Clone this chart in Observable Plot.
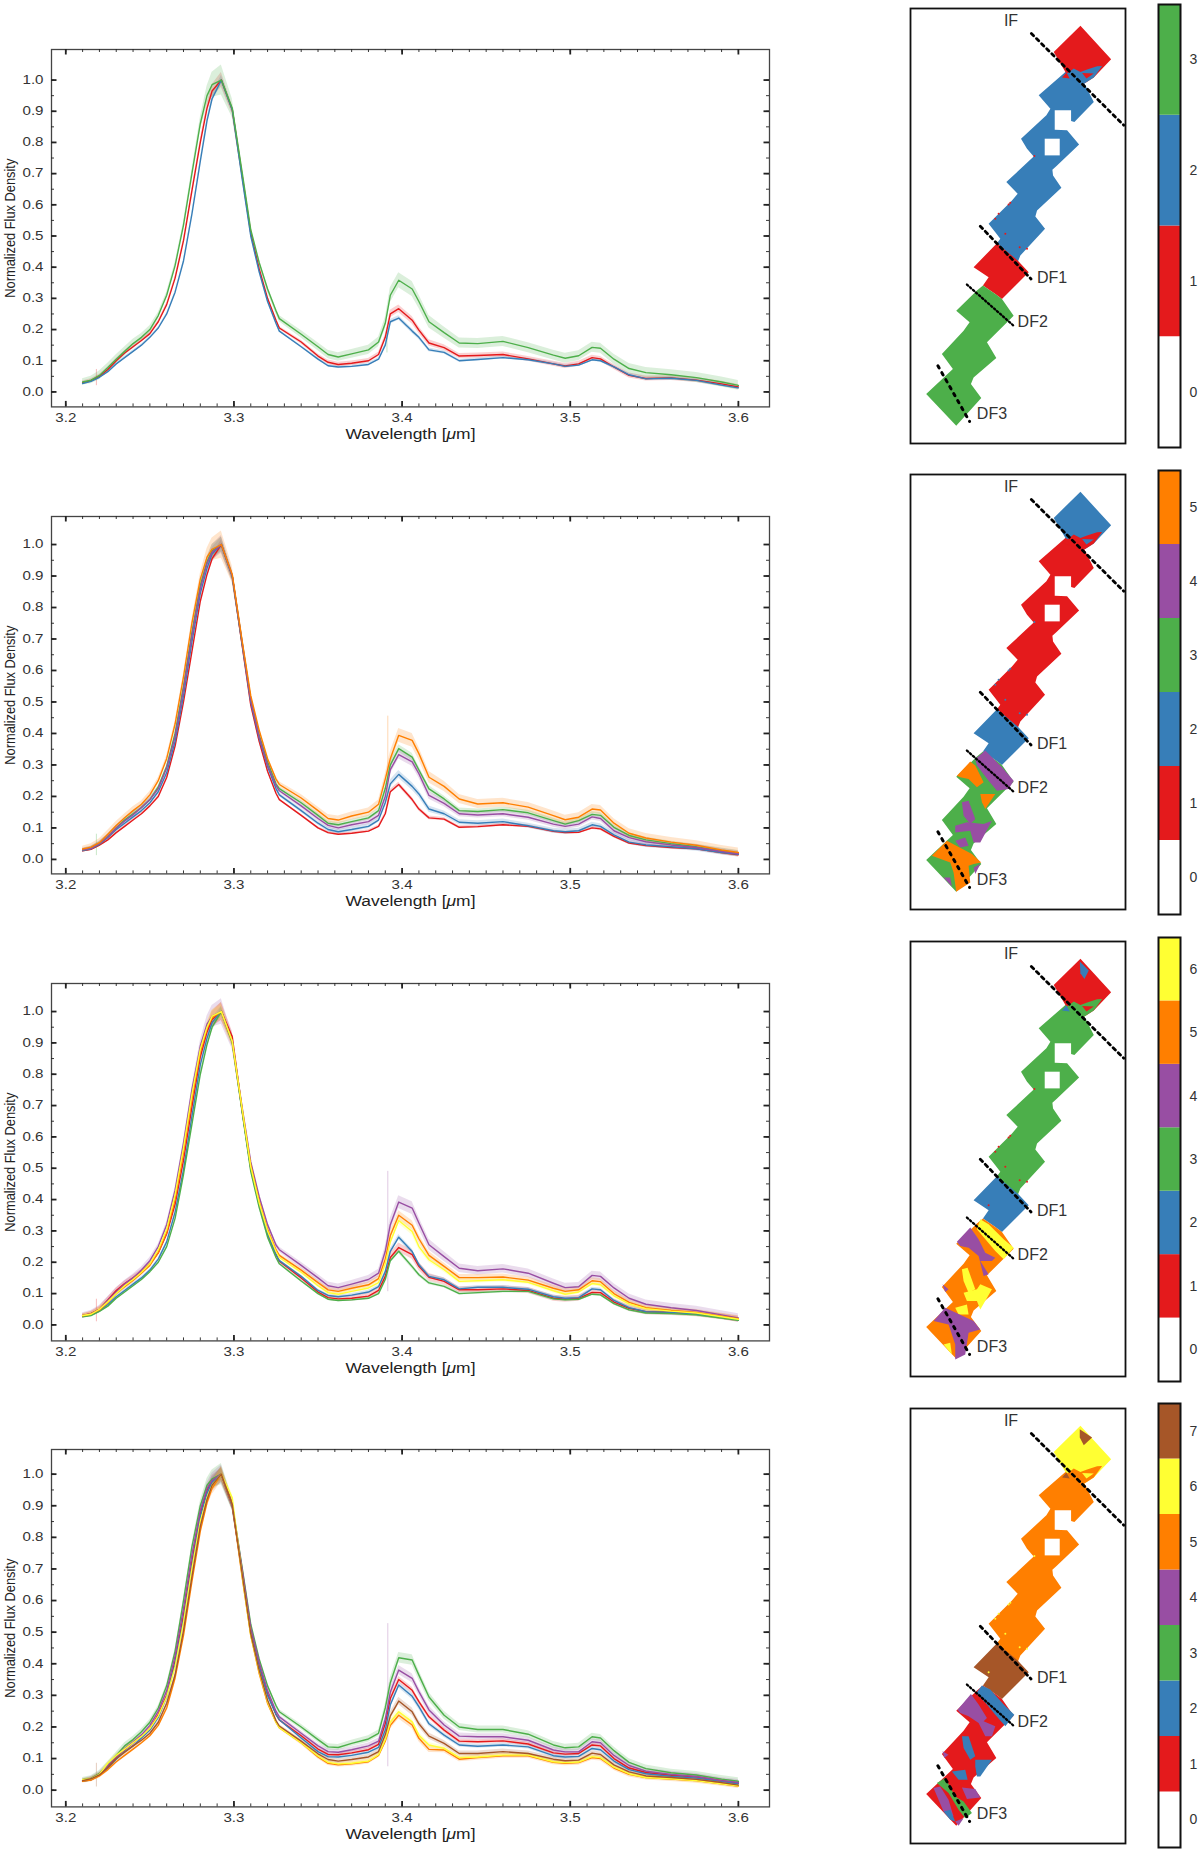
<!DOCTYPE html>
<html><head><meta charset="utf-8">
<script src="https://cdn.jsdelivr.net/npm/d3@7"></script>
<script src="https://cdn.jsdelivr.net/npm/@observablehq/plot@0.6"></script>
<style>html,body{margin:0;padding:0;background:#fff}#page{position:relative;width:1200px;height:1851px;overflow:hidden}</style>
</head><body><div id="page"></div>
<script>
const colors = ["#ffffff","#e41a1c","#377eb8","#4daf4a","#984ea3","#ff7f00","#ffff33","#a65628"];
const wavelength = [3.21,3.215,3.22,3.225,3.23,3.235,3.24,3.245,3.25,3.255,3.26,3.265,3.27,3.275,3.28,3.284,3.287,3.2925,3.299,
 3.305,3.31,3.315,3.32,3.325,3.327,3.34,3.35,3.356,3.362,3.37,3.38,3.386,3.39,
 3.393,3.398,3.406,3.41,3.416,3.425,3.434,3.445,3.46,3.475,3.49,3.497,3.505,3.513,3.518,3.526,3.535,3.545,3.56,3.575,3.59,3.6];
const bandSpread = [.01,.012,.014,.014,.014,.014,.014,.012,.012,.01,.01,.01,.01,.012,.02,.03,.04,.048,.03,
 .014,.01,.01,.01,.01,.01,.012,.013,.014,.014,.014,.015,.015,.018,
 .024,.024,.024,.022,.02,.018,.016,.016,.016,.016,.016,.016,.016,.016,.016,.016,.016,.016,.016,.016,.016,.016];

// panel 1: clusters 1-3
const p1Red=[.03,.036,.05,.072,.1,.125,.145,.165,.187,.225,.28,.365,.485,.645,.80,.91,.965,1,.905,
 .69,.51,.395,.30,.23,.205,.16,.115,.095,.088,.092,.10,.12,.175,
 .25,.267,.23,.198,.157,.142,.115,.117,.12,.106,.09,.083,.09,.11,.106,.08,.053,.043,.045,.038,.026,.016];
const p1Blue=[.027,.034,.047,.065,.09,.11,.13,.15,.175,.205,.25,.32,.42,.57,.74,.87,.94,1,.905,
 .68,.50,.385,.29,.22,.195,.145,.105,.084,.08,.082,.088,.105,.15,
 .225,.237,.195,.175,.135,.127,.10,.104,.11,.103,.09,.082,.086,.103,.10,.08,.055,.042,.044,.037,.022,.013];
const p1Green=[.032,.038,.053,.078,.105,.13,.155,.175,.20,.245,.31,.405,.535,.70,.86,.95,.985,1,.91,
 .70,.52,.415,.33,.26,.235,.185,.145,.12,.112,.122,.135,.16,.22,
 .31,.358,.33,.29,.225,.19,.157,.155,.162,.142,.118,.108,.116,.143,.14,.105,.075,.062,.055,.046,.032,.021];

// panel 2: clusters 1-5
const p2Red=[.027,.032,.045,.062,.085,.105,.125,.145,.17,.20,.26,.36,.50,.66,.82,.905,.955,1,.90,
 .675,.49,.375,.28,.21,.19,.14,.10,.085,.08,.083,.09,.105,.145,
 .215,.238,.19,.16,.132,.128,.102,.104,.11,.105,.089,.085,.086,.10,.097,.073,.052,.044,.038,.034,.022,.015];
const p2Blue=[.028,.034,.048,.07,.095,.115,.135,.155,.18,.215,.275,.375,.52,.69,.845,.925,.97,1,.90,
 .68,.50,.385,.295,.225,.205,.155,.115,.095,.088,.095,.105,.125,.18,
 .24,.27,.232,.208,.16,.145,.118,.115,.12,.107,.091,.088,.091,.11,.105,.078,.055,.046,.04,.034,.022,.016];
const p2Green=[.03,.036,.05,.073,.10,.125,.145,.165,.19,.23,.295,.40,.55,.72,.87,.945,.98,1,.90,
 .685,.51,.395,.31,.24,.225,.18,.14,.115,.11,.12,.132,.155,.225,
 .30,.352,.325,.284,.224,.192,.155,.152,.158,.148,.123,.112,.123,.143,.14,.102,.076,.062,.05,.04,.028,.02];
const p2Purple=[.03,.035,.05,.072,.10,.122,.142,.165,.19,.225,.29,.39,.54,.71,.86,.94,.975,1,.90,
 .685,.505,.39,.30,.235,.218,.17,.13,.108,.10,.11,.12,.14,.20,
 .285,.333,.31,.272,.203,.178,.145,.141,.145,.134,.112,.105,.112,.135,.13,.091,.069,.056,.046,.038,.025,.018];
const p2Orange=[.033,.039,.053,.08,.108,.132,.155,.175,.205,.25,.32,.43,.58,.75,.89,.96,.985,1,.905,
 .69,.52,.41,.32,.255,.238,.195,.155,.13,.125,.138,.15,.175,.255,
 .32,.394,.378,.336,.261,.232,.192,.176,.18,.166,.139,.126,.134,.16,.157,.115,.083,.068,.055,.045,.03,.022];

// panel 3: clusters 1-6
const p3Red=[.03,.036,.05,.08,.11,.132,.15,.17,.195,.23,.29,.385,.525,.695,.855,.935,.975,1,.92,
 .68,.50,.385,.29,.225,.203,.15,.105,.087,.083,.085,.092,.11,.155,
 .215,.247,.224,.187,.152,.139,.112,.112,.115,.11,.085,.082,.085,.104,.103,.073,.053,.042,.04,.036,.026,.018];
const p3Blue=[.027,.032,.045,.065,.09,.11,.13,.15,.175,.21,.265,.36,.495,.665,.83,.915,.965,1,.905,
 .68,.50,.385,.29,.225,.205,.155,.11,.094,.09,.095,.105,.122,.17,
 .235,.28,.234,.192,.155,.144,.115,.12,.12,.114,.09,.085,.087,.115,.112,.078,.055,.042,.04,.034,.024,.016];
const p3Green=[.026,.03,.043,.06,.085,.105,.125,.145,.17,.20,.25,.34,.48,.64,.80,.895,.95,1,.90,
 .675,.49,.375,.28,.215,.195,.14,.10,.082,.078,.08,.085,.10,.145,
 .205,.235,.186,.16,.134,.123,.10,.103,.107,.107,.083,.08,.082,.098,.096,.068,.048,.038,.036,.032,.022,.015];
const p3Purple=[.03,.036,.05,.078,.105,.13,.15,.175,.205,.25,.32,.43,.58,.75,.89,.96,.985,1,.905,
 .69,.52,.41,.32,.255,.24,.19,.15,.125,.119,.13,.145,.165,.235,
 .32,.392,.373,.325,.256,.218,.181,.173,.179,.165,.133,.119,.122,.158,.155,.118,.085,.066,.055,.046,.032,.022];
const p3Orange=[.029,.035,.048,.072,.10,.122,.142,.165,.19,.23,.295,.40,.55,.72,.87,.945,.98,1,.905,
 .685,.51,.395,.305,.24,.222,.175,.135,.112,.107,.117,.128,.148,.21,
 .285,.35,.318,.275,.222,.187,.151,.151,.153,.143,.117,.107,.112,.141,.138,.10,.072,.055,.046,.04,.028,.02];
const p3Yellow=[.03,.034,.05,.074,.10,.125,.145,.168,.195,.24,.305,.415,.565,.735,.88,.95,.985,1,.905,
 .685,.505,.39,.30,.235,.215,.168,.125,.103,.098,.107,.118,.135,.195,
 .265,.333,.298,.25,.208,.176,.139,.141,.144,.136,.109,.098,.105,.132,.128,.093,.067,.052,.044,.038,.026,.018];

// panel 4: clusters 1-7
const p4Red=[.03,.033,.048,.075,.105,.128,.15,.17,.195,.24,.30,.41,.555,.725,.875,.95,.98,1,.90,
 .69,.51,.395,.305,.24,.222,.172,.13,.113,.112,.118,.128,.145,.21,
 .29,.35,.316,.28,.232,.19,.155,.153,.156,.146,.118,.114,.116,.143,.14,.10,.07,.056,.047,.042,.03,.022];
const p4Blue=[.028,.033,.047,.07,.098,.122,.14,.165,.19,.23,.295,.40,.54,.71,.865,.94,.975,1,.90,
 .685,.505,.39,.30,.24,.223,.165,.122,.106,.105,.11,.12,.135,.19,
 .27,.333,.297,.264,.21,.174,.143,.139,.143,.137,.109,.105,.107,.132,.128,.092,.065,.052,.044,.038,.028,.02];
const p4Green=[.033,.037,.052,.08,.11,.14,.16,.185,.215,.26,.33,.44,.60,.77,.90,.965,.985,1,.905,
 .70,.525,.415,.33,.268,.248,.20,.16,.137,.135,.148,.162,.18,.26,
 .34,.419,.412,.364,.295,.237,.20,.192,.192,.177,.143,.134,.137,.169,.165,.125,.088,.068,.055,.048,.035,.028];
const p4Purple=[.03,.036,.05,.078,.105,.132,.152,.175,.205,.25,.315,.425,.575,.745,.885,.955,.98,1,.905,
 .695,.515,.405,.315,.25,.232,.18,.14,.122,.12,.128,.14,.155,.225,
 .31,.38,.354,.312,.254,.206,.171,.169,.169,.158,.127,.121,.121,.153,.15,.11,.078,.06,.05,.043,.03,.024];
const p4Orange=[.028,.032,.045,.065,.09,.11,.13,.15,.172,.205,.26,.355,.49,.66,.82,.91,.955,1,.905,
 .67,.49,.37,.275,.215,.198,.15,.105,.085,.08,.083,.09,.11,.155,
 .205,.237,.206,.164,.129,.127,.098,.103,.109,.109,.088,.085,.087,.103,.10,.07,.05,.04,.035,.03,.02,.013];
const p4Yellow=[.033,.036,.05,.085,.11,.13,.15,.17,.195,.235,.295,.39,.53,.70,.85,.925,.965,1,.925,
 .675,.49,.375,.28,.215,.198,.15,.108,.088,.083,.085,.092,.112,.16,
 .215,.248,.216,.174,.143,.132,.103,.105,.111,.111,.09,.087,.089,.106,.103,.073,.052,.04,.036,.03,.02,.014];
const p4Brown=[.03,.036,.048,.072,.10,.12,.14,.158,.18,.215,.275,.365,.505,.675,.835,.92,.965,1,.905,
 .68,.495,.38,.285,.22,.203,.155,.115,.097,.092,.097,.105,.122,.175,
 .235,.282,.248,.21,.171,.148,.116,.116,.122,.116,.098,.093,.095,.117,.113,.08,.058,.045,.04,.034,.024,.016];

const spectra = [
 {series:[p1Red,p1Blue,p1Green],band:[.5,.3,1],top:49.3,yTop:1.098,yBottom:-.048,spikeColor:[1,3],spikeX:[3.2182,3.391],spikeLo:[.02,.125],spikeHi:[.072,.195]},
 {series:[p2Red,p2Blue,p2Green,p2Purple,p2Orange],band:[.3,.5,.5,.6,.9],top:516,yTop:1.089,yBottom:-.046,spikeColor:[3,5],spikeX:[3.2182,3.3915],spikeLo:[.012,.17],spikeHi:[.08,.455]},
 {series:[p3Red,p3Blue,p3Green,p3Purple,p3Orange,p3Yellow],band:[.6,.35,.3,.85,.6,.45],top:982.7,yTop:1.0895,yBottom:-.051,spikeColor:[1,4],spikeX:[3.2182,3.3915],spikeLo:[.01,.106],spikeHi:[.082,.49]},
 {series:[p4Red,p4Blue,p4Green,p4Purple,p4Orange,p4Yellow,p4Brown],band:[.4,.4,.7,.6,.5,.4,.5],top:1449.3,yTop:1.078,yBottom:-.053,spikeColor:[7,4],spikeX:[3.2182,3.3915],spikeLo:[.01,.074],spikeHi:[.085,.527]}
];

const xMajor=[3.2,3.3,3.4,3.5,3.6];
const xMinor=d3.range(320,361).map(d=>d/100);
const yMajor=[0,.1,.2,.3,.4,.5,.6,.7,.8,.9,1];
const yMinor=d3.range(0,21).map(d=>d*.05);
const xLeft=3.1915, xRight=3.6185;

// map outlines (positions within the slit frame)
const frameX=[91,735], frameY=[1328,25];
const tileTop=[600,77,692,177,640,232,612,250,545,232,555,215,520,155];
const tileMain=[555,215,612,250,640,305,582,365,572,362,572,330,523,330,523,388,560,390,596,432,530,495,516,508,518,525,543,562,470,630,465,648,494,685,420,765,412,785,350,728,360,715,345,695,325,670,395,600,412,580,378,545,460,468,440,445,422,415,498,345,510,325,475,285];
const tileDF1=[350,728,412,780,445,815,365,895,345,880,308,855,325,830,280,800];
const tileSouth=[308,855,345,880,365,895,400,945,320,1025,348,1072,280,1130,272,1150,303,1192,228,1275,138,1180,218,1105,185,1060,250,990,268,965,228,930,290,870];
const holeA=[493,415,538,415,538,465,493,465];
const lowerPatch=[545,232,580,205,600,215,620,208,650,198,665,197,640,232,612,250];
const lowerBit=[605,218,640,220,618,235];
const cornerBit=[545,232,558,217,568,235];
const topBlob3=[598,85,625,112,612,137,600,120];
const topBlob4=[598,87,635,112,610,135,598,112];

const p2Patches=[
 [5,[230,927,270,885,285,897,310,947,290,962,265,937,240,932]],
 [4,[315,852,365,902,400,942,385,967,350,972,325,942,290,897,285,877]],
 [5,[300,982,345,982,315,1027,305,1007]],
 [4,[245,1007,265,1002,285,1057,270,1072,250,1047]],
 [4,[225,1077,260,1067,310,1072,335,1062,300,1127,280,1127,270,1092,225,1097]],
 [4,[225,1122,255,1112,265,1137,240,1142]],
 [5,[200,1122,275,1162,303,1187,280,1192,265,1197,270,1247,228,1275,220,1217,210,1187,155,1167]],
 [4,[190,1232,210,1232,215,1259]],
 [4,[280,1202,300,1192,285,1222]]];
const p3Patches=[
 [6,[300,857,325,872,370,917,400,942,370,977,345,952,290,887]],
 [4,[230,924,270,882,295,917,315,957,345,972,335,982,300,982,325,1022,310,1027,295,967,265,942,240,937]],
 [6,[245,1007,262,1002,285,1067,265,1077,250,1042]],
 [6,[290,1067,300,1052,335,1067,300,1127,290,1102,260,1102,250,1077]],
 [6,[225,1122,260,1112,265,1142,235,1142]],
 [4,[195,1122,280,1162,300,1187,265,1197,255,1262,225,1277,225,1232,205,1172,160,1162]],
 [6,[190,1232,210,1227,215,1262]],
 [4,[187,1052,205,1067,195,1075]]];
const p4Patches=[
 [2,[305,855,330,867,370,912,402,942,375,977,345,942,320,912,288,877]],
 [4,[232,927,272,880,295,912,320,952,310,962,345,977,335,1007,315,1007,295,967,265,947,240,937]],
 [2,[245,1007,265,1007,285,1067,270,1077,250,1042]],
 [2,[285,1077,300,1077,335,1077,300,1127,290,1127,285,1097]],
 [2,[215,1112,255,1107,262,1137,235,1137]],
 [4,[160,1162,180,1157,205,1197,220,1247,190,1232]],
 [3,[170,1147,195,1132,225,1187,250,1202,275,1237,255,1252,235,1227,205,1177]],
 [2,[190,1232,210,1227,225,1262,210,1257]],
 [4,[225,1262,250,1252,235,1275]],
 [4,[187,1052,205,1062,192,1072]],
 [4,[245,1160,285,1165,300,1190,260,1195]]];

const speckX=[385,390,355,462,375,440,325,418,345];
const speckY=[612,607,640,467,700,745,815,740,655];

const cuts=[
 {id:"IF",x:[453,730],y:[100,375],w:2.8,dash:"3.2 4"},
 {id:"DF1",x:[300,452],y:[677,835],w:2.8,dash:"3.2 4"},
 {id:"DF2",x:[260,403],y:[852,978],w:2.3,dash:"1.6 2.4"},
 {id:"DF3",x:[173,268],y:[1095,1262],w:3,dash:"2.6 5.4"}];
const regionNames=["IF","DF1","DF2","DF3"];
const regionX=[392,515,457,335];
const regionY=[63,832,963,1240];

const maps=[
 {clusters:3,top:8,cbarTop:4,cbarBottom:447,topC:1,mainC:2,df1C:1,southC:3,blob:null,patches:[]},
 {clusters:5,top:474,cbarTop:470,cbarBottom:914,topC:2,mainC:1,df1C:2,southC:3,blob:null,patches:p2Patches},
 {clusters:6,top:941,cbarTop:937,cbarBottom:1381,topC:1,mainC:3,df1C:2,southC:5,blob:[2,topBlob3],patches:p3Patches},
 {clusters:7,top:1408,cbarTop:1403,cbarBottom:1847,topC:6,mainC:5,df1C:7,southC:1,blob:[7,topBlob4],patches:p4Patches}
];

const page=document.getElementById("page");
const FONT='"Liberation Sans", Arial, sans-serif';
const place=(left,top)=>({position:"absolute",left:left+"px",top:top+"px",background:"transparent",fontFamily:FONT,overflow:"visible"});

function fit(el,len,anchor){
 el.setAttribute("text-anchor","start");
 el.setAttribute("x",anchor==="middle"?-len/2:anchor==="end"?-len:0);
 el.setAttribute("textLength",len);
 el.setAttribute("lengthAdjust","spacingAndGlyphs");
}

function spectrumPanel(s){
 const rows=[], bands=[];
 s.series.forEach((v,k)=>{
   v.forEach((y,i)=>{
     const h=bandSpread[i]*s.band[k];
     rows.push({x:wavelength[i],y,c:k});
     bands.push({x:wavelength[i],lo:y-h,hi:y+h,c:k});
   });
 });
 const yLen=(s.yTop-s.yBottom)/357.4, xLen=(xRight-xLeft)/718;
 const sx=s.spikeX.map((x,i)=>({x,lo:s.spikeLo[i],hi:s.spikeHi[i],c:colors[s.spikeColor[i]]}));
 const tickMarks=[];
 for(const [vals,len,w] of [[xMinor,3,.9],[xMajor,5.5,1.8]]){
   tickMarks.push(Plot.ruleX(vals,{x:d=>d,y1:s.yBottom,y2:s.yBottom+len*yLen,stroke:"#222",strokeWidth:w}));
   tickMarks.push(Plot.ruleX(vals,{x:d=>d,y1:s.yTop,y2:s.yTop-len*yLen,stroke:"#222",strokeWidth:w}));
 }
 for(const [vals,len,w] of [[yMinor,3,.9],[yMajor,5.5,1.8]]){
   tickMarks.push(Plot.ruleY(vals,{y:d=>d,x1:xLeft,x2:xLeft+len*xLen,stroke:"#222",strokeWidth:w}));
   tickMarks.push(Plot.ruleY(vals,{y:d=>d,x1:xRight,x2:xRight-len*xLen,stroke:"#222",strokeWidth:w}));
 }
 const xFmt=d3.format(".1f");
 const xLabels=new Set(xMajor.map(xFmt)), yLabels=new Set(yMajor.map(xFmt));
 const svg=Plot.plot({
   width:790,height:410,marginLeft:51,marginRight:21,marginTop:10,marginBottom:42.6,
   x:{domain:[xLeft,xRight]},y:{domain:[s.yBottom,s.yTop]},
   style:{...place(0,s.top-10),fontSize:"12px"},
   marks:[
     Plot.ruleX(sx,{x:"x",y1:"lo",y2:"hi",stroke:"c",strokeOpacity:.3,strokeWidth:1}),
     ...s.series.map((v,k)=>Plot.areaY(bands.filter(b=>b.c===k),{x:"x",y1:"lo",y2:"hi",fill:colors[k+1],fillOpacity:.2})),
     ...s.series.map((v,k)=>Plot.line(rows.filter(b=>b.c===k),{x:"x",y:"y",stroke:colors[k+1],strokeWidth:1.4})),
     Plot.frame({stroke:"#444",strokeWidth:1.3}),
     ...tickMarks,
     Plot.axisX({anchor:"bottom",ticks:xMajor,tickSize:0,tickPadding:7,tickFormat:xFmt,label:null,fill:"#333"}),
     Plot.axisY({anchor:"left",ticks:yMajor,tickSize:0,tickPadding:8,tickFormat:xFmt,label:null,fill:"#333"}),
     Plot.text(["Wavelength [μm]"],{frameAnchor:"bottom",dy:32,fontSize:14,fill:"#222"}),
     Plot.text(["Normalized Flux Density"],{frameAnchor:"left",rotate:-90,dx:-41,fontSize:14.5,fill:"#222"})
   ]});
 d3.select(svg).selectAll("text").each(function(){
   const t=this.textContent;
   if(t==="Normalized Flux Density") fit(this,139,"middle");
   else if(t==="Wavelength [μm]"){
     const node=d3.select(this);
     node.text(null);
     node.append("tspan").text("Wavelength [");
     node.append("tspan").attr("font-style","italic").text("μ");
     node.append("tspan").text("m]");
     fit(this,130,"middle");
   }
   else if(this.parentNode.getAttribute("text-anchor")==="end"||this.parentNode.parentNode.getAttribute("text-anchor")==="end"){
     if(yLabels.has(t)) fit(this,21,"end");
   }
   else if(xLabels.has(t)) fit(this,21,"middle");
 });
 page.appendChild(svg);
}

function poly(id,c,flat){
 const out=[];
 for(let i=0;i<flat.length;i+=2) out.push({id,c:colors[c],x:flat[i],y:flat[i+1]});
 return out;
}

function mapPanel(m){
 let rows=[...poly("top",m.topC,tileTop),...poly("main",m.mainC,tileMain),...poly("df1",m.df1C,tileDF1),...poly("south",m.southC,tileSouth),
   ...poly("low",m.mainC,lowerPatch),...poly("bit",m.topC,lowerBit),...poly("corner",m.mainC===2?m.topC:(m.blob?m.blob[0]:m.mainC),cornerBit),...poly("hole",0,holeA)];
 if(m.blob) rows=rows.concat(poly("blob",m.blob[0],m.blob[1]));
 m.patches.forEach((p,i)=>{rows=rows.concat(poly("p"+i,p[0],p[1]));});
 const specks=speckX.map((x,i)=>({x,y:speckY[i]}));
 const cutRows=[];
 cuts.forEach(c=>{c.x.forEach((x,i)=>cutRows.push({id:c.id,x,y:c.y[i]}));});
 const svg=Plot.plot({
   width:219,height:439,margin:2,
   x:{domain:frameX},y:{domain:frameY},
   style:place(908,m.top-2),
   axis:null,
   marks:[
     Plot.line(rows,{x:"x",y:"y",z:"id",fill:"c",stroke:null,curve:"linear-closed"}),
     Plot.dot(specks,{x:"x",y:"y",r:1,fill:colors[m.topC]}),
     ...cuts.map(c=>Plot.line(cutRows.filter(r=>r.id===c.id),{x:"x",y:"y",stroke:"#000",strokeWidth:c.w,strokeDasharray:c.dash})),
     Plot.text(regionNames,{x:(d,i)=>regionX[i],y:(d,i)=>regionY[i],text:d=>d,fontSize:16,fill:"#333"}),
     Plot.frame({stroke:"#111",strokeWidth:1.8})
   ]});
 page.appendChild(svg);

 const n=m.clusters+1;
 const cells=d3.range(n);
 const cb=Plot.plot({
   width:46,height:(m.cbarBottom-m.cbarTop)+4,marginLeft:2,marginRight:22,marginTop:2,marginBottom:2,
   x:{domain:[0,1],axis:null},y:{domain:[-.5,n-.5]},
   style:{...place(1156,m.cbarTop-2),fontSize:"14px"},
   marks:[
     Plot.rect(cells,{x1:0,x2:1,y1:d=>d-.5,y2:d=>d+.5,fill:d=>colors[d]}),
     Plot.frame({stroke:"#111",strokeWidth:2}),
     Plot.axisY({anchor:"right",ticks:cells,tickSize:0,tickPadding:9,tickFormat:d=>String(d),label:null,fill:"#333"})
   ]});
 page.appendChild(cb);
}

spectra.forEach(spectrumPanel);
maps.forEach(mapPanel);
</script></body></html>
